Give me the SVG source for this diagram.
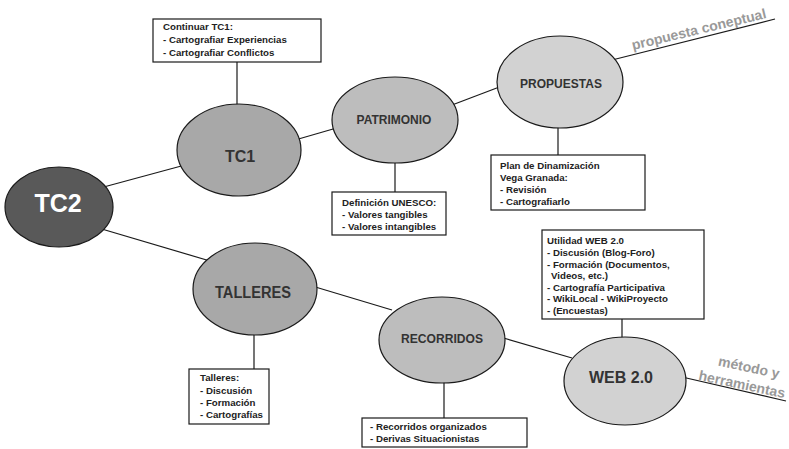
<svg xmlns="http://www.w3.org/2000/svg" width="789" height="449" viewBox="0 0 789 449">
<style>
.c{stroke:#1a1a1a;stroke-width:1.2;fill:none}
.n{stroke:#1a1a1a;stroke-width:1.2}
.b{fill:#fff;stroke:#1a1a1a;stroke-width:1.2}
.t{font-family:"Liberation Sans",Arial,sans-serif;font-weight:bold;fill:#333;text-anchor:middle}
.bt{font-family:"Liberation Sans",Arial,sans-serif;font-weight:bold;font-size:9.7px;fill:#222}
.a{font-family:"Liberation Sans",Arial,sans-serif;font-weight:bold;font-size:14px;fill:#999;text-anchor:middle}
.d1{fill:#595959}.d2{fill:#a8a8a8}.d3{fill:#bdbdbd}.d4{fill:#d2d2d2}
</style>
<rect width="789" height="449" fill="#fff"/>
<g id="connectors">
<line class="c" x1="100" y1="188" x2="185" y2="165"/>
<line class="c" x1="95" y1="227" x2="210" y2="261"/>
<line class="c" x1="295" y1="140" x2="340" y2="127"/>
<line class="c" x1="452" y1="105" x2="502" y2="86"/>
<line class="c" x1="612" y1="60" x2="775" y2="19"/>
<line class="c" x1="312" y1="286" x2="392" y2="310"/>
<line class="c" x1="500" y1="337" x2="572" y2="358"/>
<line class="c" x1="682" y1="377" x2="786" y2="401"/>
<line class="c" x1="237" y1="62" x2="237" y2="106"/>
<line class="c" x1="395" y1="160" x2="395" y2="192"/>
<line class="c" x1="558" y1="126" x2="558" y2="155"/>
<line class="c" x1="254" y1="333" x2="254" y2="369"/>
<line class="c" x1="444" y1="380" x2="444" y2="418"/>
<line class="c" x1="622" y1="319" x2="622" y2="339"/>
</g>
<g id="tc2"><ellipse class="n d1" cx="59" cy="207" rx="54" ry="40"/><text class="t" x="58" y="212" font-size="25" style="fill:#fff">TC2</text></g>
<g id="tc1"><ellipse class="n d2" cx="239" cy="150" rx="62" ry="46"/><text class="t" x="240" y="162" font-size="16">TC1</text></g>
<g id="patrimonio"><ellipse class="n d3" cx="395" cy="120" rx="63" ry="43"/><text class="t" x="394" y="124" font-size="12">PATRIMONIO</text></g>
<g id="propuestas"><ellipse class="n d4" cx="560" cy="82" rx="63" ry="46"/><text class="t" x="561" y="88" font-size="12">PROPUESTAS</text></g>
<g id="talleres"><ellipse class="n d2" cx="255" cy="289" rx="62" ry="46"/><text class="t" x="253" y="298" font-size="16" textLength="76" lengthAdjust="spacingAndGlyphs">TALLERES</text></g>
<g id="recorridos"><ellipse class="n d3" cx="442" cy="340" rx="63" ry="43"/><text class="t" x="442" y="343" font-size="13" textLength="82" lengthAdjust="spacingAndGlyphs">RECORRIDOS</text></g>
<g id="web"><ellipse class="n d4" cx="625" cy="381" rx="61" ry="44"/><text class="t" x="621" y="383" font-size="16">WEB 2.0</text></g>
<g id="box-tc1"><rect class="b" x="153" y="19" width="168" height="43"/>
<text class="bt" x="163" y="30">Continuar TC1:</text>
<text class="bt" x="163" y="43">- Cartografiar Experiencias</text>
<text class="bt" x="163" y="55.5">- Cartografiar Conflictos</text></g>
<g id="box-propuestas"><rect class="b" x="491" y="155" width="154" height="55"/>
<text class="bt" x="500" y="168.5">Plan de Dinamización</text>
<text class="bt" x="500" y="181">Vega Granada:</text>
<text class="bt" x="500" y="193">- Revisión</text>
<text class="bt" x="500" y="205">- Cartografiarlo</text></g>
<g id="box-patrimonio"><rect class="b" x="332" y="192" width="114" height="43"/>
<text class="bt" x="342" y="206">Definición UNESCO:</text>
<text class="bt" x="342" y="218">- Valores tangibles</text>
<text class="bt" x="342" y="229.5">- Valores intangibles</text></g>
<g id="box-web"><rect class="b" x="542" y="230" width="162" height="89"/>
<text class="bt" x="547" y="244">Utilidad WEB 2.0</text>
<text class="bt" x="547" y="256">- Discusión (Blog-Foro)</text>
<text class="bt" x="547" y="267.5">- Formación (Documentos,</text>
<text class="bt" x="551" y="279">Videos, etc.)</text>
<text class="bt" x="547" y="290.5">- Cartografía Participativa</text>
<text class="bt" x="547" y="302">- WikiLocal - WikiProyecto</text>
<text class="bt" x="547" y="314">- (Encuestas)</text></g>
<g id="box-talleres"><rect class="b" x="189" y="369" width="80" height="55"/>
<text class="bt" x="200" y="381">Talleres:</text>
<text class="bt" x="200" y="393.5">- Discusión</text>
<text class="bt" x="200" y="406">- Formación</text>
<text class="bt" x="200" y="418">- Cartografías</text></g>
<g id="box-recorridos"><rect class="b" x="362" y="418" width="165" height="29"/>
<text class="bt" x="370" y="430">- Recorridos organizados</text>
<text class="bt" x="370" y="442">- Derivas Situacionistas</text></g>
<g id="annotations">
<text class="a" x="748" y="372" transform="rotate(12 748 372)">método y</text>
<text class="a" x="741" y="389" font-size="13.5" transform="rotate(12 741 389)">herramientas</text>
<text class="a" x="700" y="34" transform="rotate(-13.5 700 34)">propuesta coneptual</text>
</g>
</svg>
